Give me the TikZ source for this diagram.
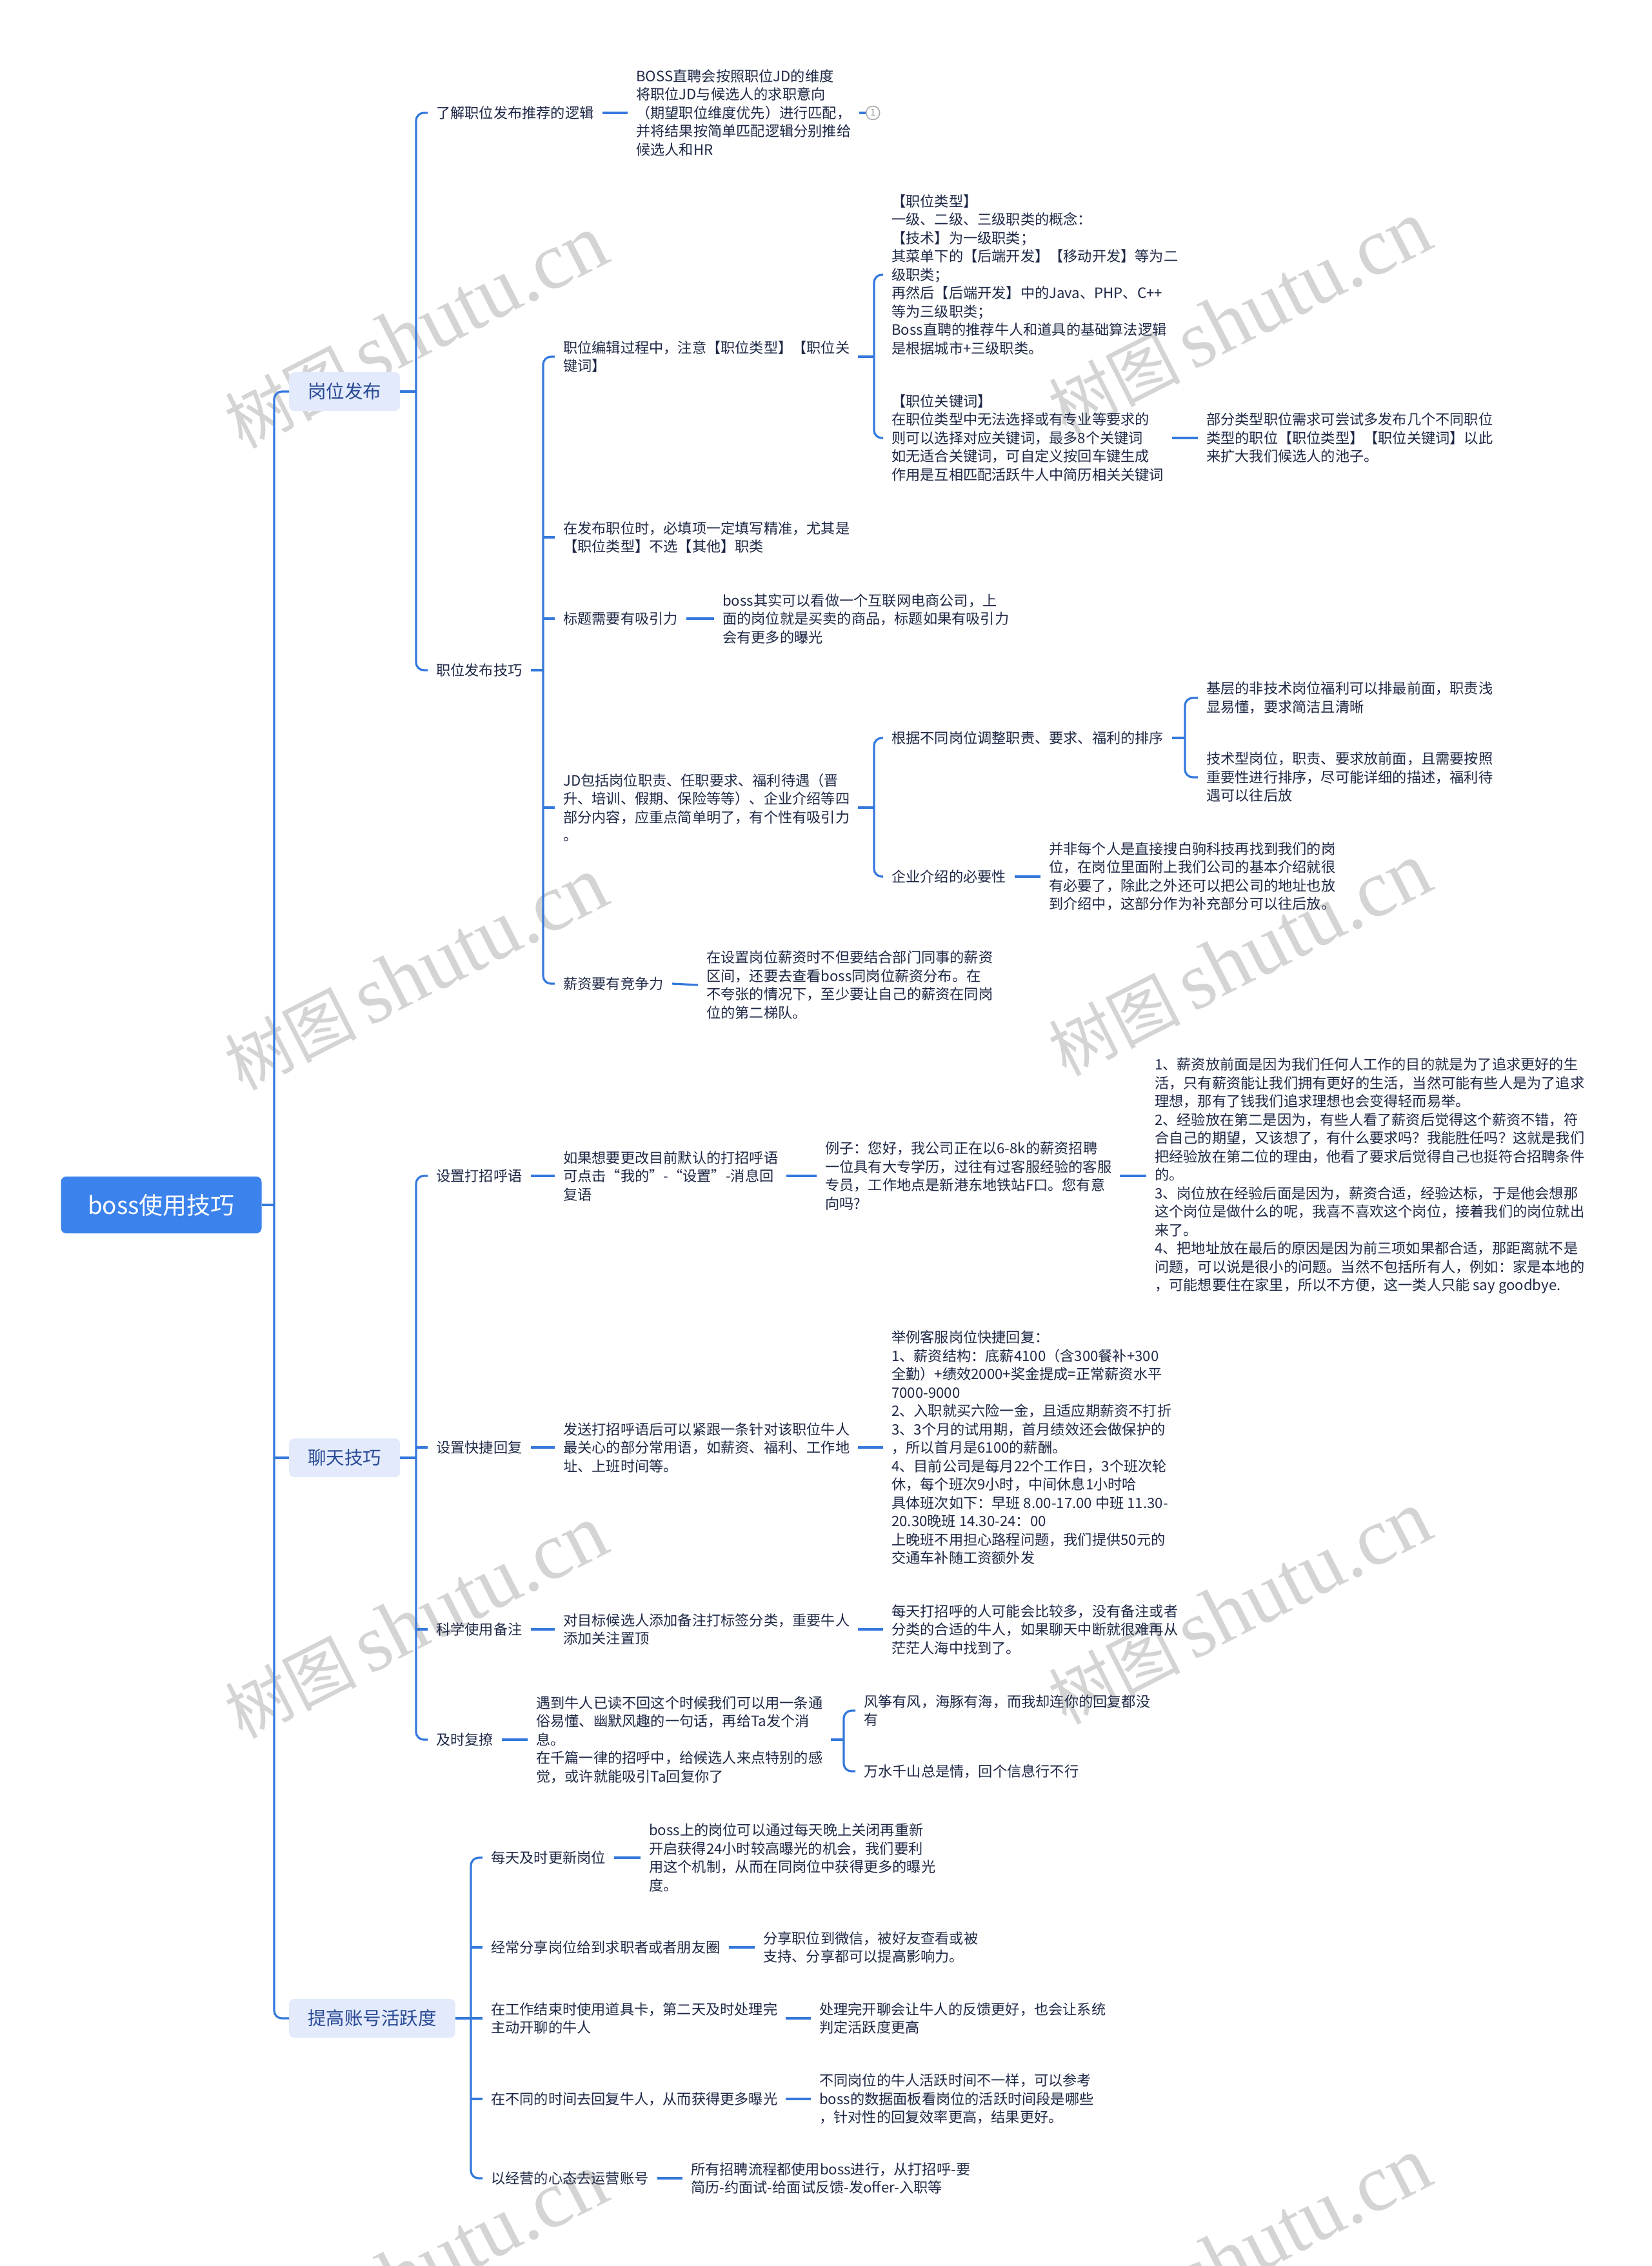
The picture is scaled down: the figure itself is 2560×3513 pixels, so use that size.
\documentclass[tikz,border=0pt]{standalone}
\usepackage{fontspec}
\setmainfont{Noto Sans CJK SC}
\newfontfamily\wmserif{Liberation Serif}
\usetikzlibrary{calc}
\definecolor{linec}{HTML}{3478DC}
\definecolor{txt}{HTML}{1E2846}
\definecolor{cattxt}{HTML}{2A4A94}
\definecolor{catfill}{HTML}{E2EAFB}
\definecolor{rootfill}{HTML}{3B82EC}
\definecolor{wm}{HTML}{D4D4D4}
\tikzset{
 leaf/.style={anchor=west, align=left, inner xsep=13pt, inner ysep=4pt, text=txt, font=\fontsize{22.2}{28.5}\selectfont},
 cat/.style={anchor=west, fill=catfill, rounded corners=8pt, inner xsep=29pt, inner ysep=12pt, minimum height=60pt, text=cattxt, font=\fontsize{28.5}{34}\selectfont},
 rootbox/.style={fill=rootfill, rounded corners=8pt, text=white, minimum width=311pt, minimum height=88pt, font=\fontsize{37}{44}\selectfont},
 conn/.style={draw=linec, line width=3.2pt, rounded corners=12pt},
 wmark/.style={text=wm, rotate=27, inner sep=0pt, font=\fontsize{102}{120}\selectfont},
 collapsed/.style={anchor=west, circle, draw=gray!70, line width=1.5pt, inner sep=1pt, minimum size=21pt, text=gray, font=\fontsize{14}{14}\selectfont},
}
\newcommand{\wmtext}{树图\hspace{18pt}{\wmserif\fontsize{126}{130}\selectfont shutu.cn}}
\begin{document}
\begin{tikzpicture}[x=1pt,y=-1pt]
\fill[white] (0,0) rectangle (2560,3513);
\useasboundingbox (0,0) rectangle (2560,3513);
% watermarks
\node[wmark] (w1) at (645,515) {\wmtext};
\node[wmark] (w2) at (1922,493) {\wmtext};
\node[wmark] (w3) at (645,1510) {\wmtext};
\node[wmark] (w4) at (1922,1488) {\wmtext};
\node[wmark] (w5) at (645,2515) {\wmtext};
\node[wmark] (w6) at (1922,2493) {\wmtext};
\node[wmark] (w7) at (645,3520) {\wmtext};
\node[wmark] (w8) at (1922,3495) {\wmtext};
% root and categories
\node[rootbox] (root) at (250,1868) {boss使用技巧};
\coordinate (tr) at (425,0);
\coordinate (b1) at (645,0);
\coordinate (b2) at (842,0);
\coordinate (b3) at (1355,0);
\coordinate (b4) at (1837,0);
\coordinate (b6) at (1308,0);
\coordinate (b7) at (730,0);
\node[cat] (k1) at (448,607) {岗位发布};
\node[cat] (k2) at (448,2260) {聊天技巧};
\node[cat] (k3) at (448,3129) {提高账号活跃度};
\draw[conn] (root.east) -- (root.east -| tr);
\draw[conn] (k1.west) -- (k1.west -| tr) -- (k3.west -| tr) -- (k3.west);
\draw[conn] (k2.west -| tr) -- (k2.west);
% ---- 岗位发布
\node[leaf] (A1) at (663,175) {了解职位发布推荐的逻辑};
\node[leaf] (A1d) at (973,175) {BOSS直聘会按照职位JD的维度\\将职位JD与候选人的求职意向\\（期望职位维度优先）进行匹配，\\并将结果按简单匹配逻辑分别推给\\候选人和HR};
\node[collapsed] (cA) at (1342,175) {1};
\node[leaf] (A2) at (663,1039) {职位发布技巧};
\node[leaf] (B1) at (860,553) {职位编辑过程中，注意【职位类型】【职位关\\键词】};
\node[leaf] (C1) at (1369,426) {【职位类型】\\一级、二级、三级职类的概念：\\【技术】为一级职类；\\其菜单下的【后端开发】【移动开发】等为二\\级职类；\\再然后【后端开发】中的Java、PHP、C++\\等为三级职类；\\Boss直聘的推荐牛人和道具的基础算法逻辑\\是根据城市+三级职类。};
\node[leaf] (C2) at (1369,679) {【职位关键词】\\在职位类型中无法选择或有专业等要求的\\则可以选择对应关键词，最多8个关键词\\如无适合关键词，可自定义按回车键生成\\作用是互相匹配活跃牛人中简历相关关键词};
\node[leaf] (D1) at (1857,679) {部分类型职位需求可尝试多发布几个不同职位\\类型的职位【职位类型】【职位关键词】以此\\来扩大我们候选人的池子。};
\node[leaf] (B2) at (860,833) {在发布职位时，必填项一定填写精准，尤其是\\【职位类型】不选【其他】职类};
\node[leaf] (B3) at (860,959) {标题需要有吸引力};
\node[leaf] (B3d) at (1107,959) {boss其实可以看做一个互联网电商公司，上\\面的岗位就是买卖的商品，标题如果有吸引力\\会有更多的曝光};
\node[leaf] (B4) at (860,1252) {JD包括岗位职责、任职要求、福利待遇（晋\\升、培训、假期、保险等等）、企业介绍等四\\部分内容，应重点简单明了，有个性有吸引力\\。};
\node[leaf] (E1) at (1369,1144) {根据不同岗位调整职责、要求、福利的排序};
\node[leaf] (F1) at (1857,1082) {基层的非技术岗位福利可以排最前面，职责浅\\显易懂，要求简洁且清晰};
\node[leaf] (F2) at (1857,1205) {技术型岗位，职责、要求放前面，且需要按照\\重要性进行排序，尽可能详细的描述，福利待\\遇可以往后放};
\node[leaf] (E2) at (1369,1359) {企业介绍的必要性};
\node[leaf] (G) at (1613,1359) {并非每个人是直接搜白驹科技再找到我们的岗\\位，在岗位里面附上我们公司的基本介绍就很\\有必要了，除此之外还可以把公司的地址也放\\到介绍中，这部分作为补充部分可以往后放。};
\node[leaf] (B5) at (860,1525) {薪资要有竞争力};
\node[leaf] (B5d) at (1082,1527) {在设置岗位薪资时不但要结合部门同事的薪资\\区间，还要去查看boss同岗位薪资分布。在\\不夸张的情况下，至少要让自己的薪资在同岗\\位的第二梯队。};
\draw[conn] (k1.east) -- (k1.east -| b1);
\draw[conn] (A1.west) -- (A1.west -| b1) -- (A2.west -| b1) -- (A2.west);
\draw[conn] (A1.east) -- (A1d.west);
\draw[conn] (A1d.east) -- (cA.west);
\draw[conn] (A2.east) -- (A2.east -| b2);
\draw[conn] (B1.west) -- (B1.west -| b2) -- (B5.west -| b2) -- (B5.west);
\foreach \n in {B2,B3,B4} \draw[conn] (\n.west -| b2) -- (\n.west);
\draw[conn] (B1.east) -- (B1.east -| b3);
\draw[conn] (C1.west) -- (C1.west -| b3) -- (C2.west -| b3) -- (C2.west);
\draw[conn] (C2.east) -- (D1.west);
\draw[conn] (B3.east) -- (B3d.west);
\draw[conn] (B4.east) -- (B4.east -| b3);
\draw[conn] (E1.west) -- (E1.west -| b3) -- (E2.west -| b3) -- (E2.west);
\draw[conn] (E1.east) -- (E1.east -| b4);
\draw[conn] (F1.west) -- (F1.west -| b4) -- (F2.west -| b4) -- (F2.west);
\draw[conn] (E2.east) -- (G.west);
\draw[conn] (B5.east) -- (B5d.west);
% ---- 聊天技巧
\node[leaf] (H1) at (663,1823) {设置打招呼语};
\node[leaf] (H1d) at (860,1823) {如果想要更改目前默认的打招呼语\\可点击“我的”-“设置”-消息回\\复语};
\node[leaf] (H1e) at (1266,1823) {例子：您好，我公司正在以6-8k的薪资招聘\\一位具有大专学历，过往有过客服经验的客服\\专员，工作地点是新港东地铁站F口。您有意\\向吗?};
\node[leaf] (H1f) at (1777,1823) {1、薪资放前面是因为我们任何人工作的目的就是为了追求更好的生\\活，只有薪资能让我们拥有更好的生活，当然可能有些人是为了追求\\理想，那有了钱我们追求理想也会变得轻而易举。\\2、经验放在第二是因为，有些人看了薪资后觉得这个薪资不错，符\\合自己的期望，又该想了，有什么要求吗？我能胜任吗？这就是我们\\把经验放在第二位的理由，他看了要求后觉得自己也挺符合招聘条件\\的。\\3、岗位放在经验后面是因为，薪资合适，经验达标，于是他会想那\\这个岗位是做什么的呢，我喜不喜欢这个岗位，接着我们的岗位就出\\来了。\\4、把地址放在最后的原因是因为前三项如果都合适，那距离就不是\\问题，可以说是很小的问题。当然不包括所有人，例如：家是本地的\\，可能想要住在家里，所以不方便，这一类人只能 say goodbye.};
\node[leaf] (H2) at (663,2244) {设置快捷回复};
\node[leaf] (H2d) at (860,2244) {发送打招呼语后可以紧跟一条针对该职位牛人\\最关心的部分常用语，如薪资、福利、工作地\\址、上班时间等。};
\node[leaf] (H2e) at (1369,2244) {举例客服岗位快捷回复：\\1、薪资结构：底薪4100（含300餐补+300\\全勤）+绩效2000+奖金提成=正常薪资水平\\7000-9000\\2、入职就买六险一金，且适应期薪资不打折\\3、3个月的试用期，首月绩效还会做保护的\\，所以首月是6100的薪酬。\\4、目前公司是每月22个工作日，3个班次轮\\休，每个班次9小时，中间休息1小时哈\\具体班次如下：早班 8.00-17.00 中班 11.30-\\20.30晚班 14.30-24：00\\上晚班不用担心路程问题，我们提供50元的\\交通车补随工资额外发};
\node[leaf] (H3) at (663,2526) {科学使用备注};
\node[leaf] (H3d) at (860,2526) {对目标候选人添加备注打标签分类，重要牛人\\添加关注置顶};
\node[leaf] (H3e) at (1369,2526) {每天打招呼的人可能会比较多，没有备注或者\\分类的合适的牛人，如果聊天中断就很难再从\\茫茫人海中找到了。};
\node[leaf] (H4) at (663,2697) {及时复撩};
\node[leaf] (H4d) at (818,2697) {遇到牛人已读不回这个时候我们可以用一条通\\俗易懂、幽默风趣的一句话，再给Ta发个消\\息。\\在千篇一律的招呼中，给候选人来点特别的感\\觉，或许就能吸引Ta回复你了};
\node[leaf] (I1) at (1326,2652) {风筝有风，海豚有海，而我却连你的回复都没\\有};
\node[leaf] (I2) at (1326,2746) {万水千山总是情，回个信息行不行};
\draw[conn] (k2.east) -- (k2.east -| b1);
\draw[conn] (H1.west) -- (H1.west -| b1) -- (H4.west -| b1) -- (H4.west);
\foreach \n in {H2,H3} \draw[conn] (\n.west -| b1) -- (\n.west);
\draw[conn] (H1.east) -- (H1d.west);
\draw[conn] (H1d.east) -- (H1e.west);
\draw[conn] (H1e.east) -- (H1f.west);
\draw[conn] (H2.east) -- (H2d.west);
\draw[conn] (H2d.east) -- (H2e.west);
\draw[conn] (H3.east) -- (H3d.west);
\draw[conn] (H3d.east) -- (H3e.west);
\draw[conn] (H4.east) -- (H4d.west);
\draw[conn] (H4d.east) -- (H4d.east -| b6);
\draw[conn] (I1.west) -- (I1.west -| b6) -- (I2.west -| b6) -- (I2.west);
% ---- 提高账号活跃度
\node[leaf] (J1) at (748,2880) {每天及时更新岗位};
\node[leaf] (J1d) at (993,2880) {boss上的岗位可以通过每天晚上关闭再重新\\开启获得24小时较高曝光的机会，我们要利\\用这个机制，从而在同岗位中获得更多的曝光\\度。};
\node[leaf] (J2) at (748,3019) {经常分享岗位给到求职者或者朋友圈};
\node[leaf] (J2d) at (1170,3019) {分享职位到微信，被好友查看或被\\支持、分享都可以提高影响力。};
\node[leaf] (J3) at (748,3129) {在工作结束时使用道具卡，第二天及时处理完\\主动开聊的牛人};
\node[leaf] (J3d) at (1257,3129) {处理完开聊会让牛人的反馈更好，也会让系统\\判定活跃度更高};
\node[leaf] (J4) at (748,3254) {在不同的时间去回复牛人，从而获得更多曝光};
\node[leaf] (J4d) at (1257,3254) {不同岗位的牛人活跃时间不一样，可以参考\\boss的数据面板看岗位的活跃时间段是哪些\\，针对性的回复效率更高，结果更好。};
\node[leaf] (J5) at (748,3377) {以经营的心态去运营账号};
\node[leaf] (J5d) at (1058,3377) {所有招聘流程都使用boss进行，从打招呼-要\\简历-约面试-给面试反馈-发offer-入职等};
\draw[conn] (k3.east) -- (k3.east -| b7);
\draw[conn] (J1.west) -- (J1.west -| b7) -- (J5.west -| b7) -- (J5.west);
\foreach \n in {J2,J3,J4} \draw[conn] (\n.west -| b7) -- (\n.west);
\foreach \n/\m in {J1/J1d,J2/J2d,J3/J3d,J4/J4d,J5/J5d} \draw[conn] (\n.east) -- (\m.west);
\end{tikzpicture}
\end{document}
